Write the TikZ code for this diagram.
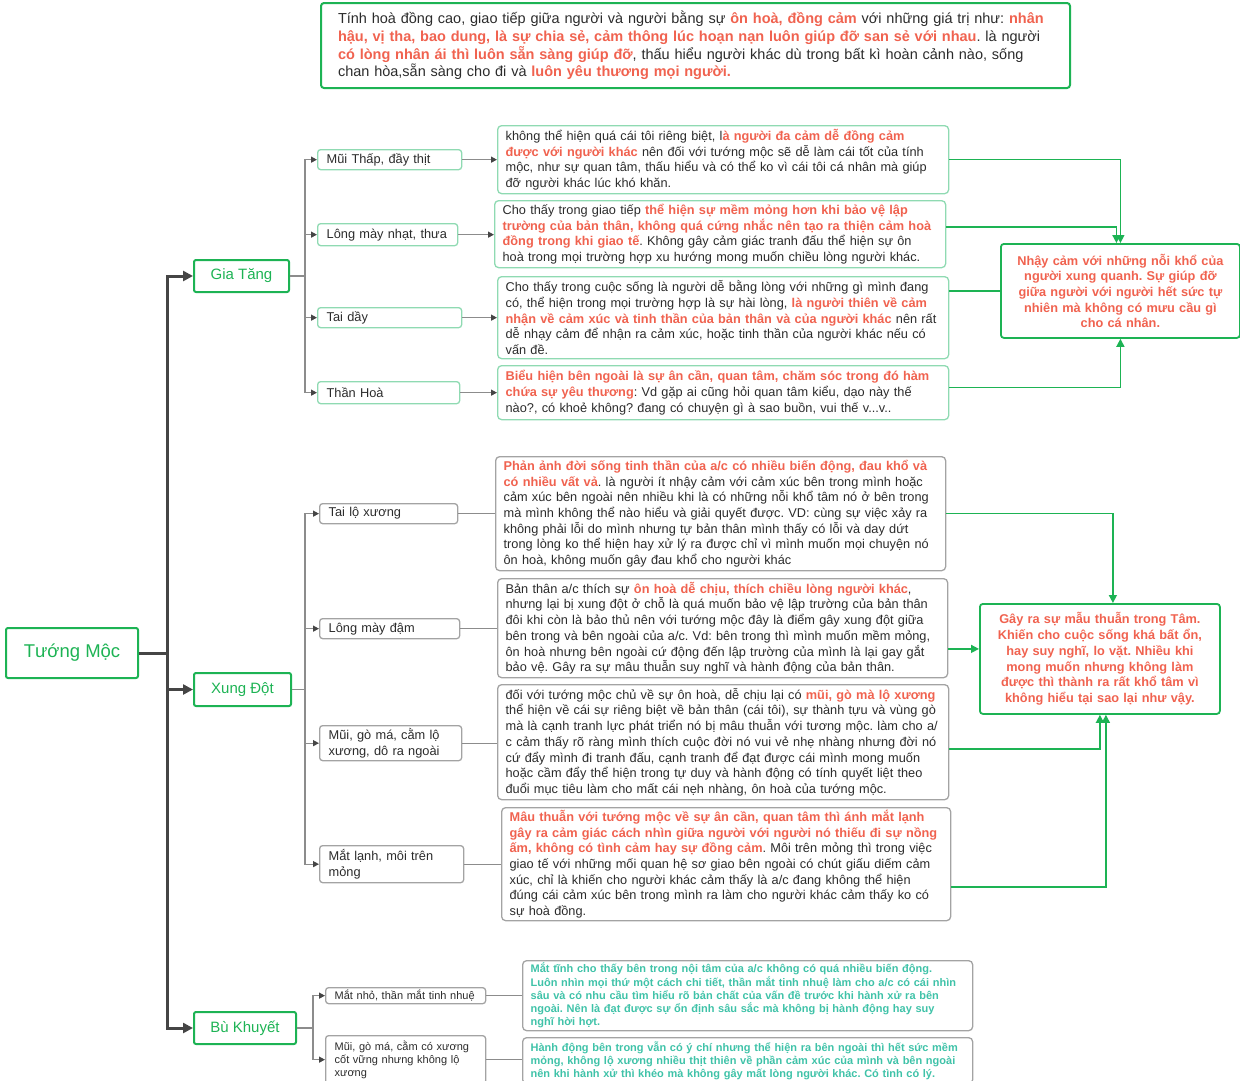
\documentclass[tikz,border=0pt]{standalone}
\usepackage{fontspec}
\setmainfont{Liberation Sans}
\usetikzlibrary{arrows.meta,positioning}
\frenchspacing
\definecolor{leafgreen}{HTML}{1DB354}
\definecolor{palegreen}{HTML}{8FDAB2}
\definecolor{boxgrey}{HTML}{A3A3A3}
\definecolor{hotred}{HTML}{F0624F}
\definecolor{tealtext}{HTML}{3FC2A8}
\definecolor{inkgrey}{HTML}{2B2B2B}
\definecolor{trunkgrey}{HTML}{454545}
\definecolor{branchgrey}{HTML}{8C8C8C}
\newcommand{\redb}[1]{{\color{hotred}\bfseries #1}}
\tikzset{
  boxdim/.style n args={3}{minimum width=#1pt, minimum height=#2pt, text width=#3pt},
  notebox/.style={draw=leafgreen, line width=2pt, rounded corners=3pt, anchor=north west,
    inner xsep=17pt, inner ysep=2pt, align=left, text=inkgrey, font=\fontsize{14.5}{17.7}\selectfont},
  rootbox/.style={draw=leafgreen, line width=2pt, rounded corners=2pt, anchor=north west,
    text=leafgreen, inner sep=0pt},
  groupbox/.style={rootbox, font=\fontsize{15}{18}\selectfont},
  legbox/.style={rounded corners=3pt, line width=1.3pt, anchor=north west, inner xsep=9pt,
    inner ysep=1pt, align=left, text=inkgrey, font=\fontsize{12.8}{15.7}\selectfont},
  greenleg/.style={legbox, draw=palegreen},
  greyleg/.style={legbox, draw=boxgrey},
  smallleg/.style={greyleg, font=\fontsize{11}{13}\selectfont},
  detail/.style={rounded corners=4pt, line width=1.3pt, anchor=north west, inner xsep=8pt,
    inner ysep=1pt, align=left, text=inkgrey, font=\fontsize{12.75}{15.7}\selectfont},
  greendetail/.style={detail, draw=palegreen},
  greydetail/.style={detail, draw=boxgrey},
  tealdetail/.style={detail, draw=boxgrey, text=tealtext, font=\fontsize{11}{13.3}\selectfont\bfseries},
  sumbox/.style={draw=leafgreen, line width=1.8pt, rounded corners=3pt, anchor=north west,
    inner xsep=8pt, align=center, text=hotred, font=\fontsize{12.75}{15.7}\selectfont\bfseries},
  trunk/.style={draw=trunkgrey, line width=3pt, -{Triangle[length=10pt,width=10pt]}},
  branch/.style={draw=branchgrey, line width=1.3pt, -{Triangle[length=6pt,width=6pt,color=trunkgrey]}},
  feed/.style={draw=branchgrey, line width=1.3pt},
  tie/.style={draw=leafgreen, line width=1.5pt, -{Triangle[length=8pt,width=8pt]}}
}
\begin{document}
\begin{tikzpicture}[x=1pt, y=-1pt]
\useasboundingbox (0,0) rectangle (1240,1080);

% note on top
\node[notebox, boxdim={749}{85}{715}] (intro) at (320,2)
  {Tính hoà đồng cao, giao tiếp giữa người và người bằng sự \redb{ôn hoà, đồng cảm} với những giá trị như: \redb{nhân}\\
   \redb{hậu, vị tha, bao dung, là sự chia sẻ, cảm thông lúc hoạn nạn luôn giúp đỡ san sẻ với nhau}. là người\\
   \redb{có lòng nhân ái thì luôn sẵn sàng giúp đỡ}, thấu hiểu người khác dù trong bất kì hoàn cảnh nào, sống\\
   chan hòa,sẵn sàng cho đi và \redb{luôn yêu thương mọi người.}};

% root and groups
\node[rootbox, minimum width=132pt, minimum height=50pt, font=\fontsize{18.5}{22}\selectfont] (tm) at (5,627) {Tướng Mộc};
\node[groupbox, minimum width=95pt, minimum height=32pt] (gt) at (193,259) {Gia Tăng};
\node[groupbox, minimum width=97pt, minimum height=33pt] (xd) at (193,672) {Xung Đột};
\node[groupbox, minimum width=102pt, minimum height=32pt] (bk) at (193,1011) {Bù Khuyết};

% Gia Tang
\node[greenleg, boxdim={144}{20}{126}] (ga1) at (317,149) {Mũi Thấp, đầy thịt};
\node[greenleg, boxdim={140}{22}{122}] (ga2) at (317,223) {Lông mày nhạt, thưa};
\node[greenleg, boxdim={144}{20}{126}] (ga3) at (317,307) {Tai dầy};
\node[greenleg, boxdim={142}{22}{124}] (ga4) at (317,381) {Thần Hoà};

\node[greendetail, boxdim={451}{68}{435}] (d1) at (497,125)
  {không thể hiện quá cái tôi riêng biệt, l\redb{à người đa cảm dễ đồng cảm}\\
   \redb{được với người khác} nên đối với tướng mộc sẽ dễ làm cái tốt của tính\\
   mộc, như sự quan tâm, thấu hiểu và có thể ko vì cái tôi cá nhân mà giúp\\
   đỡ người khác lúc khó khăn.};
\node[greendetail, boxdim={451}{67}{435}] (d2) at (494,200)
  {Cho thấy trong giao tiếp \redb{thể hiện sự mềm mỏng hơn khi bảo vệ lập}\\
   \redb{trường của bản thân, không quá cứng nhắc nên tạo ra thiện cảm hoà}\\
   \redb{đồng trong khi giao tế}. Không gây cảm giác tranh đấu thể hiện sự ôn\\
   hoà trong mọi trường hợp xu hướng mong muốn chiều lòng người khác.};
\node[greendetail, boxdim={451}{82}{435}] (d3) at (497,276)
  {Cho thấy trong cuộc sống là người dễ bằng lòng với những gì mình đang\\
   có, thể hiện trong mọi trường hợp là sự hài lòng, \redb{là người thiên về cảm}\\
   \redb{nhận về cảm xúc và tinh thần của bản thân và của người khác} nên rất\\
   dễ nhạy cảm để nhận ra cảm xúc, hoặc tinh thần của người khác nếu có\\
   vấn đề.};
\node[greendetail, boxdim={451}{54}{435}] (d4) at (497,365)
  {\redb{Biểu hiện bên ngoài là sự ân cần, quan tâm, chăm sóc trong đó hàm}\\
   \redb{chứa sự yêu thương}: Vd gặp ai cũng hỏi quan tâm kiểu, dạo này thế\\
   nào?, có khoẻ không? đang có chuyện gì à sao buồn, vui thế v...v..};

\node[sumbox, boxdim={239}{94}{223}] (s1) at (1000,243)
  {Nhậy cảm với những nỗi khổ của\\
   người xung quanh. Sự giúp đỡ\\
   giữa người với người hết sức tự\\
   nhiên mà không có mưu cầu gì\\
   cho cá nhân.};

% Xung Dot
\node[greyleg, boxdim={138}{20}{120}] (xa1) at (319,503) {Tai lộ xương};
\node[greyleg, boxdim={140}{20}{122}] (xa2) at (319,618) {Lông mày đậm};
\node[greyleg, boxdim={142}{35}{124}] (xa3) at (319,725) {Mũi, gò má, cằm lộ\\xương, dô ra ngoài};
\node[greyleg, boxdim={144}{37}{126}] (xa4) at (319,845) {Mắt lạnh, môi trên\\mỏng};

\node[greydetail, boxdim={450}{114}{434}] (e1) at (495,456)
  {\redb{Phản ảnh đời sống tinh thần của a/c có nhiều biến động, đau khổ và}\\
   \redb{có nhiều vất vả}. là người ít nhậy cảm với cảm xúc bên trong mình hoặc\\
   cảm xúc bên ngoài nên nhiều khi là có những nỗi khổ tâm nó ở bên trong\\
   mà mình không thể nào hiểu và giải quyết được. VD: cùng sự việc xảy ra\\
   không phải lỗi do mình nhưng tự bản thân mình thấy có lỗi và day dứt\\
   trong lòng ko thể hiện hay xử lý ra được chỉ vì mình muốn mọi chuyện nó\\
   ôn hoà, không muốn gây đau khổ cho người khác};
\node[greydetail, boxdim={450}{99}{434}] (e2) at (497,578)
  {Bản thân a/c thích sự \redb{ôn hoà dễ chịu, thích chiều lòng người khác},\\
   nhưng lại bị xung đột ở chỗ là quá muốn bảo vệ lập trường của bản thân\\
   đôi khi còn là bảo thủ nên với tướng mộc đây là điểm gây xung đột giữa\\
   bên trong và bên ngoài của a/c. Vd: bên trong thì mình muốn mềm mỏng,\\
   ôn hoà nhưng bên ngoài cứ động đến lập trường của mình là lại gay gắt\\
   bảo vệ. Gây ra sự mâu thuẫn suy nghĩ và hành động của bản thân.};
\node[greydetail, boxdim={451}{115}{435}] (e3) at (497,684)
  {đối với tướng mộc chủ về sự ôn hoà, dễ chịu lại có \redb{mũi, gò mà lộ xương}\\
   thể hiện về cái sự riêng biệt về bản thân (cái tôi), sự thành tựu và vùng gò\\
   mà là cạnh tranh lực phát triển nó bị mâu thuẫn với tương mộc. làm cho a/\\
   c cảm thấy rõ ràng mình thích cuộc đời nó vui vẻ nhẹ nhàng nhưng đời nó\\
   cứ đẩy mình đi tranh đấu, cạnh tranh để đạt được cái mình mong muốn\\
   hoặc cầm đẩy thể hiện trong tự duy và hành động có tính quyết liệt theo\\
   đuổi mục tiêu làm cho mất cái nẹh nhàng, ôn hoà của tướng mộc.};
\node[greydetail, boxdim={449}{113}{433}] (e4) at (501,807)
  {\redb{Mâu thuẫn với tướng mộc về sự ân cần, quan tâm thì ánh mắt lạnh}\\
   \redb{gây ra cảm giác cách nhìn giữa người với người nó thiếu đi sự nồng}\\
   \redb{ấm, không có tình cảm hay sự đồng cảm}. Môi trên mỏng thì trong việc\\
   giao tế với những mối quan hệ sơ giao bên ngoài có chút giấu diếm cảm\\
   xúc, chỉ là khiến cho người khác cảm thấy là a/c đang không thể hiện\\
   đúng cái cảm xúc bên trong mình ra làm cho người khác cảm thấy ko có\\
   sự hoà đồng.};

\node[sumbox, boxdim={240}{110}{224}] (s2) at (979,603)
  {Gây ra sự mẫu thuẫn trong Tâm.\\
   Khiến cho cuộc sống khá bất ổn,\\
   hay suy nghĩ, lo vặt. Nhiều khi\\
   mong muốn nhưng không làm\\
   được thì thành ra rất khổ tâm vì\\
   không hiểu tại sao lại như vậy.};

% Bu Khuyet
\node[smallleg, boxdim={160}{16}{142}] (ba1) at (325,987) {Mắt nhỏ, thần mắt tinh nhuệ};
\node[smallleg, boxdim={160}{48}{142}] (ba2) at (325,1035) {Mũi, gò má, cằm có xương\\cốt vững nhưng không lộ\\xương};

\node[tealdetail, boxdim={450}{70}{434}] (f1) at (522,960)
  {Mắt tĩnh cho thấy bên trong nội tâm của a/c không có quá nhiều biến động.\\
   Luôn nhìn mọi thứ một cách chi tiết, thần mắt tinh nhuệ làm cho a/c có cái nhìn\\
   sâu và có nhu cầu tìm hiểu rõ bản chất của vấn đề trước khi hành xử ra bên\\
   ngoài. Nên là đạt được sự ổn định sâu sắc mà không bị hành động hay suy\\
   nghĩ hời hợt.};
\node[tealdetail, boxdim={450}{46}{434}] (f2) at (522,1037)
  {Hành động bên trong vẫn có ý chí nhưng thể hiện ra bên ngoài thì hết sức mềm\\
   mỏng, không lộ xương nhiều thịt thiên về phần cảm xúc của mình và bên ngoài\\
   nên khi hành xử thì khéo mà không gây mất lòng người khác. Có tình có lý.};

% trunk
\draw[trunk] (tm.east) -- ++(28,0) |- (gt.west);
\draw[trunk] (tm.east) -- ++(28,0) |- (xd.west);
\draw[trunk] (tm.east) -- ++(28,0) |- (bk.west);

% branches
\foreach \leg in {ga1,ga2,ga3,ga4}
  \draw[branch] (gt.east) -- ++(15,0) |- (\leg.west);
\foreach \leg in {xa1,xa2,xa3,xa4}
  \draw[branch] (xd.east) -- ++(13,0) |- (\leg.west);
\foreach \leg in {ba1,ba2}
  \draw[branch] (bk.east) -- ++(16,0) |- (\leg.west);

% legs to details
\draw[branch] (ga1.east) -- (ga1.east -| d1.west);
\draw[branch] (ga2.east) -- (ga2.east -| d2.west);
\draw[branch] (ga3.east) -- (ga3.east -| d3.west);
\draw[branch] (ga4.east) -- (ga4.east -| d4.west);
\draw[feed] (xa1.east) -- (xa1.east -| e1.west);
\draw[feed] (xa2.east) -- (xa2.east -| e2.west);
\draw[feed] (xa3.east) -- (xa3.east -| e3.west);
\draw[feed] (xa4.east) -- (xa4.east -| e4.west);
\draw[feed] (ba1.east) -- (ba1.east -| f1.west);
\draw[feed] (ba2.east) -- (ba2.east -| f2.west);

% details to summaries
\draw[tie] (d1.east) -| (s1.north);
\draw[tie] ([yshift=7pt]d2.east) -| ([xshift=-4pt]s1.north);
\draw[tie, -] (s1.west -| d3.east) -- (s1.west);
\draw[tie] ([yshift=5pt]d4.east) -| (s1.south);
\draw[tie] (e1.east) -| ([xshift=13pt]s2.north);
\draw[tie] ([yshift=10pt]s2.west -| e2.east) -- ([yshift=10pt]s2.west);
\draw[tie] ([yshift=-7pt]e3.east) -| (s2.south);
\draw[tie] ([yshift=-23pt]e4.east) -| ([xshift=6pt]s2.south);
\end{tikzpicture}
\end{document}
